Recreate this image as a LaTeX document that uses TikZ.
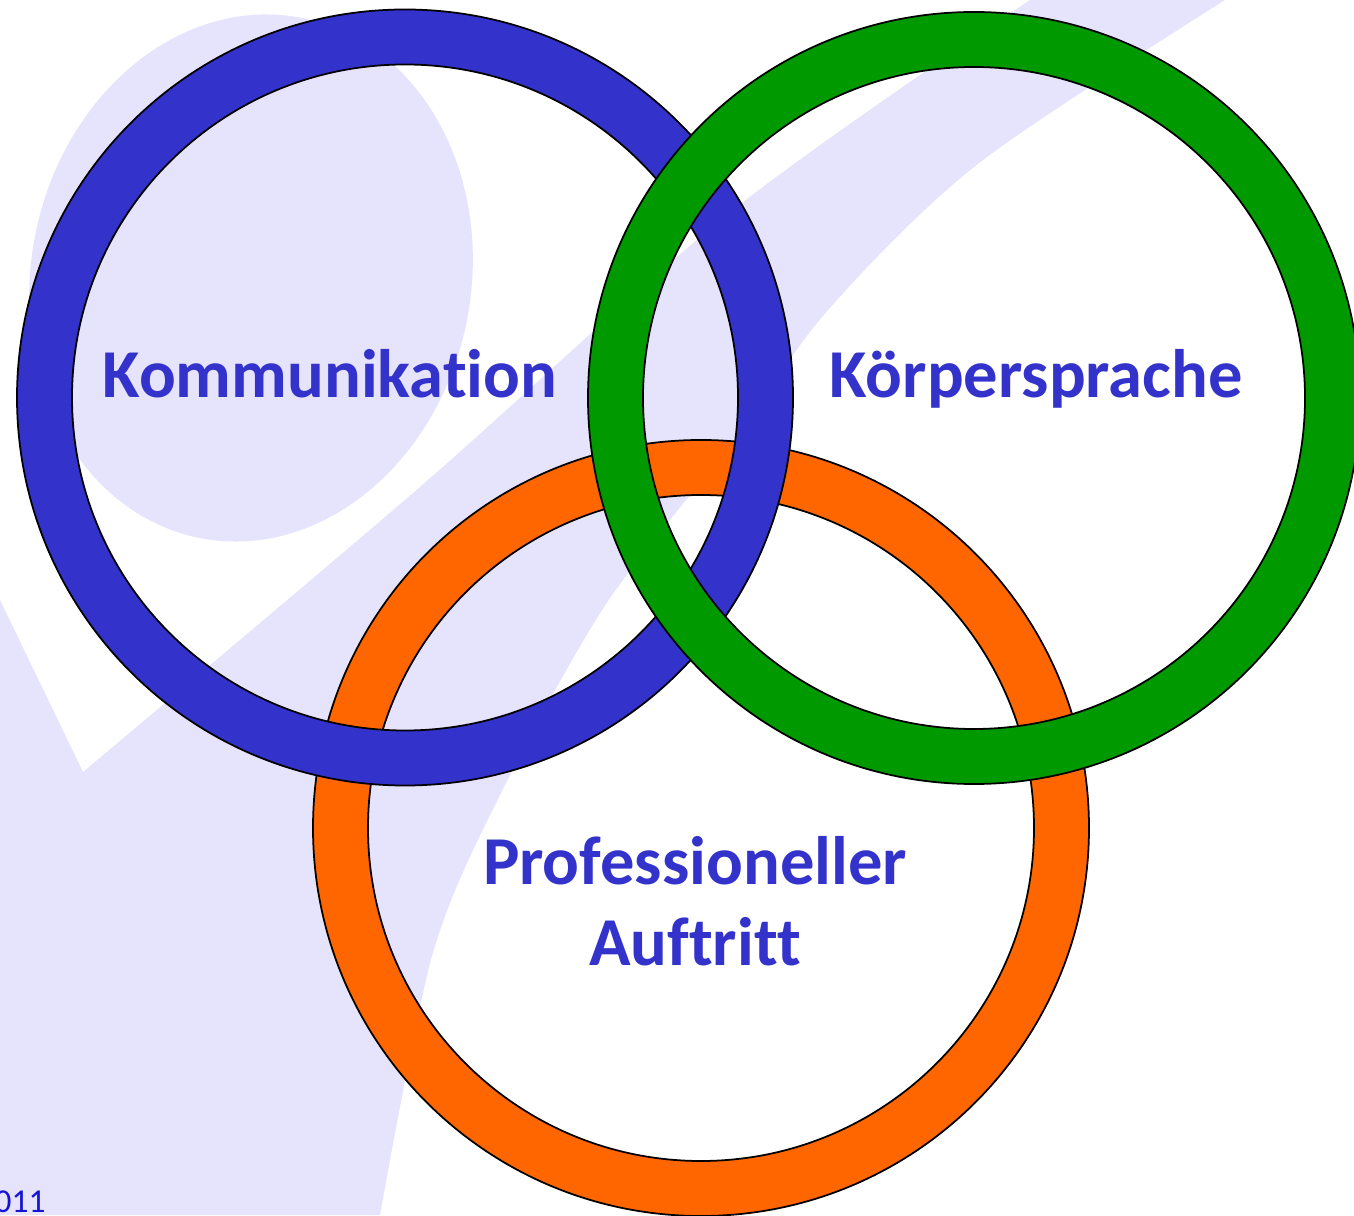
\documentclass[tikz,border=0pt]{standalone}
\usepackage{fontspec}
\setmainfont{Carlito}[Ligatures={NoCommon}]
\definecolor{ringblue}{RGB}{51,51,204}
\definecolor{ringgreen}{RGB}{0,153,0}
\definecolor{ringorange}{RGB}{255,102,0}
\definecolor{logolila}{RGB}{230,227,252}
\definecolor{labelblue}{RGB}{51,51,204}
\definecolor{yearblue}{RGB}{20,20,210}

\begin{document}
\begin{tikzpicture}[line join=round,
  ring/.style={draw=black,line width=0.5pt,even odd rule},
  ringlabel/.style={font=\fontsize{19.5}{23}\selectfont\bfseries,text=labelblue,align=center,inner sep=0pt}]
\useasboundingbox (0,0) rectangle (13.54,12.15);
\fill[white] (0,0) rectangle (13.54,12.15);
% watermark behind the rings
\fill[logolila,rotate around={-11:(2.51,9.37)}] (2.51,9.37) ellipse (2.2 and 2.65);
\fill[logolila] (0,6.15) -- (0.83,4.43)
  -- plot[smooth] coordinates {(0.83,4.43) (4.20,7.28) (7.33,10.05) (10.30,12.15)}
  -- (12.25,12.15)
  -- plot[smooth] coordinates {(12.25,12.15) (9.79,10.52) (8.28,9.05) (7.30,7.70) (6.04,6.08) (4.97,4.14) (4.32,2.59) (3.80,0)}
  -- (0,0) -- cycle;
% ring centres
\coordinate (kom) at (4.05,8.175);
\coordinate (koe) at (9.74,8.17);
\coordinate (auf) at (7.01,3.87);
\draw[ring,fill=ringorange] (auf) circle (3.88) (auf) circle (3.33);
\draw[ring,fill=ringblue] (kom) circle (3.88) (kom) circle (3.33);
\draw[ring,fill=ringgreen] (koe) circle (3.86) (koe) circle (3.31);
\node[ringlabel,anchor=base] (komtxt) at (3.30,8.17) {Kommunikation};
\node[ringlabel,anchor=base] (koetxt) at (10.36,8.17) {Körpersprache};
\node[ringlabel] (auftxt) at (6.95,3.14) {Professioneller\\Auftritt};
\node[font=\fontsize{9.5}{11}\selectfont,text=yearblue,anchor=base west,inner sep=0pt] (jahr) at (-0.06,0.03) {011};
\end{tikzpicture}
\end{document}
